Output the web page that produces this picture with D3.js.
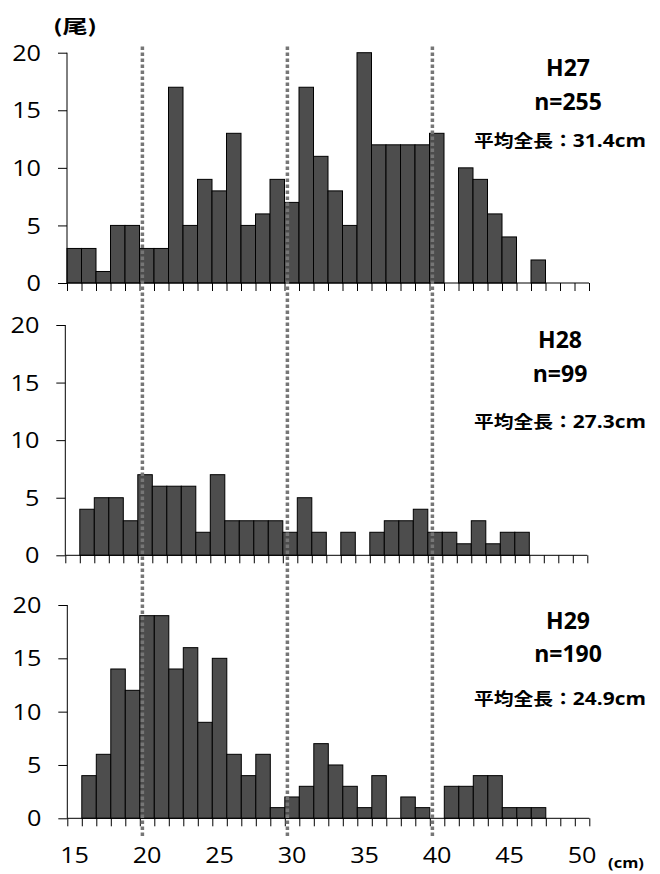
<!DOCTYPE html>
<html><head><meta charset="utf-8">
<script src="https://cdn.jsdelivr.net/npm/d3@7"></script>
<style>body{margin:0;background:#fff}svg{display:block}</style>
</head><body>
<script>
const categories = [15,16,17,18,19,20,21,22,23,24,25,26,27,28,29,30,31,32,33,34,35,36,37,38,39,40,41,42,43,44,45,46,47,48,49,50];
const h27 = [3,3,1,5,5,3,3,17,5,9,8,13,5,6,9,7,17,11,8,5,20,12,12,12,12,13,0,10,9,6,4,0,2,0,0,0];
const h28 = [0,4,5,5,3,7,6,6,6,2,7,3,3,3,3,2,5,2,0,2,0,2,3,3,4,2,2,1,3,1,2,2,0,0,0,0];
const h29 = [0,4,6,14,12,19,19,14,16,9,15,6,4,6,1,2,3,7,5,3,1,4,0,2,1,0,3,3,4,4,1,1,1,0,0,0];
const yTicks = [0,5,10,15,20];
const xTickLabels = [15,20,25,30,35,40,45,50];
const refLines = [19.7,29.7,39.7];
const panelNames = ["H27","H28","H29"];
const panelN = ["n=255","n=99","n=190"];
const panelMean = ["31.4cm","27.3cm","24.9cm"];

const W = 660, H = 874;
const svg = d3.select("body").append("svg").attr("width", W).attr("height", H);

const panels = [
  {data: h27, x0: 67,   y0: 283,   y20: 52.7,  tx: 568, b1: 76,  b2: 110, b3: 147},
  {data: h28, x0: 65.3, y0: 555.3, y20: 325,   tx: 560, b1: 348, b2: 382, b3: 428},
  {data: h29, x0: 67.3, y0: 818.3, y20: 605,   tx: 568, b1: 629, b2: 662, b3: 705}
];
const PW = 522;
const latin = "'Open Sans', 'Noto Sans', sans-serif";
const cjk = "'Noto Sans CJK JP', 'Noto Sans', sans-serif";

function txt(g, x, y, s, opt) {
  const t = g.append("g").attr("transform", `translate(${x},${y}) scale(${opt.sx||1},1)`)
    .append("text").attr("x", 0).attr("y", 0)
    .attr("font-family", opt.family || latin)
    .attr("font-size", opt.size)
    .attr("font-weight", opt.weight || "normal")
    .attr("text-anchor", opt.anchor || "start")
    .attr("dominant-baseline", opt.baseline || "auto")
    .attr("fill", "#000")
    .text(s);
  return t;
}

panels.forEach((p, i) => {
  const g = svg.append("g");
  const x = d3.scaleBand().domain(categories).range([p.x0, p.x0 + PW]).padding(0);
  const y = d3.scaleLinear().domain([0, 20]).range([p.y0, p.y20]);
  const rows = categories.map((c, j) => ({c, v: p.data[j]})).filter(d => d.v > 0);

  g.selectAll("rect.bar").data(rows).join("rect")
    .attr("x", d => x(d.c)).attr("width", x.bandwidth())
    .attr("y", d => y(d.v)).attr("height", d => y(0) - y(d.v))
    .attr("fill", "#4d4d4d").attr("stroke", "#000").attr("stroke-width", 1);

  // y axis
  const ya = d3.axisLeft(y).tickValues(yTicks).tickSize(9).tickFormat("");
  const yg = g.append("g").attr("transform", `translate(${p.x0},0)`).call(ya);
  yg.select(".domain").attr("stroke", "#000").attr("d", `M0,${y(20)}V${y(0)}`);
  yg.selectAll(".tick line").attr("stroke", "#000");
  yTicks.forEach(v => txt(g, p.x0 - 26, y(v), String(v), {size: 21, anchor: "end", baseline: "central", sx: 1.2}));

  // x axis with ticks at every category boundary
  const bounds = d3.scaleLinear().domain([14.5, 50.5]).range([p.x0, p.x0 + PW]);
  const xa = d3.axisBottom(bounds).tickValues(categories.map(c => c - 0.5).concat([50.5])).tickSize(8).tickFormat("");
  const xg = g.append("g").attr("transform", `translate(0,${p.y0})`).call(xa);
  xg.select(".domain").attr("stroke", "#000").attr("d", `M${p.x0},0H${p.x0 + PW}`);
  xg.selectAll(".tick line").attr("stroke", "#000");

  if (i === 2) {
    xTickLabels.forEach(v => txt(g, x(v) + x.bandwidth() / 2, 862.5, String(v), {size: 21, anchor: "middle", sx: 1.2}));
  }

  txt(g, p.tx, p.b1, panelNames[i], {size: 23, weight: "bold", anchor: "middle", sx: 1.0});
  txt(g, p.tx, p.b2, panelN[i], {size: 23, weight: "bold", anchor: "middle", sx: 1.0});
  const t = txt(g, 560, p.b3, "", {size: 17.5, weight: "bold", anchor: "middle", family: cjk, sx: 1.13});
  t.append("tspan").text("平均全長：");
  t.append("tspan").attr("font-family", latin).attr("font-size", 18.5).text(panelMean[i]);
});

// reference dotted lines spanning all panels
const xl = d3.scaleLinear().domain([14.5, 50.5]).range([67, 67 + PW]);
svg.selectAll("line.ref").data(refLines).join("line")
  .attr("x1", d => xl(d)).attr("x2", d => xl(d))
  .attr("y1", 46.5).attr("y2", 837)
  .attr("stroke", "#767676").attr("stroke-width", 3.5).attr("stroke-dasharray", "3.5,2.5");

txt(svg, 75, 33, "(尾)", {size: 18, weight: "bold", anchor: "middle", family: cjk, sx: 1.4});
txt(svg, 626, 868, "(cm)", {size: 15, weight: "bold", anchor: "middle", family: latin, sx: 1.1});
</script>
</body></html>
